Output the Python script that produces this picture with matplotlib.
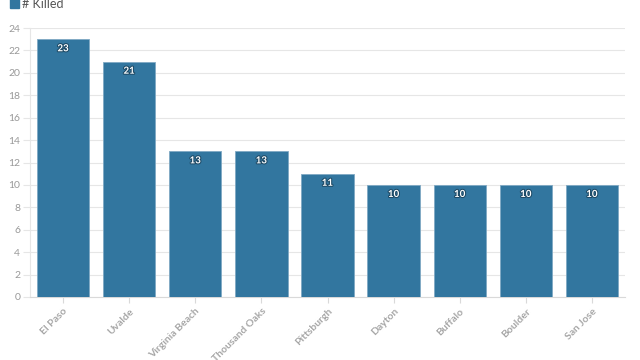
import matplotlib
matplotlib.use("Agg")
import matplotlib.pyplot as plt
import matplotlib.patheffects as pe
from matplotlib.patches import Rectangle

cities = ["El Paso", "Uvalde", "Virginia Beach", "Thousand Oaks", "Pittsburgh",
          "Dayton", "Buffalo", "Boulder", "San Jose"]
killed = [23, 21, 13, 13, 11, 10, 10, 10, 10]
yticks = list(range(0, 25, 2))

plt.rcParams['font.family'] = ['Lato', 'DejaVu Sans']

fig = plt.figure(figsize=(6.4, 3.6), dpi=100)
ax = fig.add_axes([30/640, 1-297/360, 595/640, 269/360])
color = "#32769f"
x = list(range(len(cities)))
bars = ax.bar(x, killed, width=0.79, color=color, edgecolor="#7fa9c4", linewidth=0.6, zorder=3)
for xi, v in zip(x, killed):
    ax.text(xi, v - 0.45, str(v), ha="center", va="top", color="white", fontsize=7,
            fontweight="bold", zorder=4,
            path_effects=[pe.withStroke(linewidth=1.5, foreground="#1d4a66")])

ax.set_xlim(-0.5, len(cities) - 0.5)
ax.set_ylim(0, 24)
ax.set_yticks(yticks)
ax.set_yticklabels([str(t) for t in yticks], color="#999999", fontsize=7.5)
ax.set_xticks(x)
ax.set_xticklabels(cities, rotation=45, ha="right", rotation_mode="anchor",
                   color="#a6a6a6", fontsize=7.5, fontweight="bold")
ax.grid(axis="y", color="#e6e6e6", linewidth=0.8, zorder=0)
for s in ["top", "right"]:
    ax.spines[s].set_visible(False)
ax.spines["left"].set_color("#e6e6e6")
ax.spines["bottom"].set_color("#d9d9d9")
ax.tick_params(axis="y", length=5, color="#e6e6e6", pad=2)
ax.tick_params(axis="x", length=4, color="#d9d9d9", pad=3)

fig.patches.append(Rectangle((10/640, 1-8/360), 9/640, 12/360, transform=fig.transFigure,
                             color=color, clip_on=False))
fig.text(22/640, 1-4/360, "# Killed", fontsize=9, color="#555555", va="center", ha="left")

fig.savefig("out.png", dpi=100)
